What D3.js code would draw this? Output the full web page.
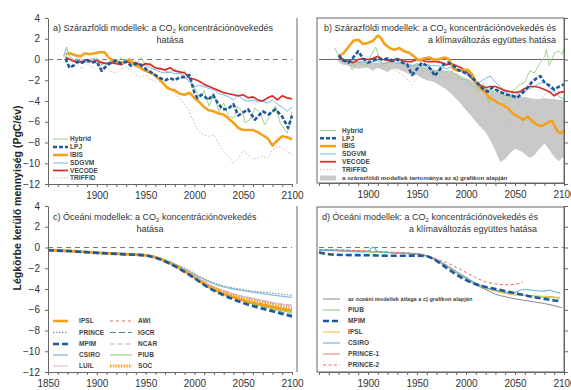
<!DOCTYPE html>
<html>
<head>
<meta charset="utf-8">
<script src="https://cdn.jsdelivr.net/npm/d3@7"></script>
<style>
  body { margin: 0; background: #fff; }
  text { font-family: "Liberation Sans", Arial, sans-serif; fill: #333; }
  .axis path, .axis line { stroke: #666; }
  .axis text { font-size: 10px; fill: #333; }
  .leg { font-size: 6.5px; font-weight: bold; fill: #444; letter-spacing: 0.1px; }
  .ttl { font-size: 9px; fill: #333; }
</style>
</head>
<body>
<svg id="chart" width="571" height="390"></svg>
<script>
// ---- a) land models, CO2 only ----
var hybridA = [[1866,0.4],[1870,0.2],[1875,-0.3],[1880,0.1],[1885,-0.4],[1890,0.0],[1895,-0.3],[1900,0.1],[1905,-0.2],[1910,-0.5],[1915,0.0],[1920,-0.3],[1925,0.2],[1930,-0.4],[1935,0.1],[1940,-0.6],[1945,0.2],[1950,-0.5],[1955,-0.3],[1960,-0.9],[1965,-0.8],[1970,-1.1],[1975,-1.3],[1980,-0.9],[1985,-1.4],[1990,-1.1],[1996,-2.1],[2001,-2.9],[2006,-3.7],[2010,-3.0],[2015,-4.5],[2020,-3.4],[2025,-5.0],[2030,-4.2],[2035,-5.5],[2041,-5.6],[2044,-4.5],[2049,-5.0],[2052,-6.1],[2057,-5.8],[2062,-4.7],[2067,-5.1],[2072,-6.3],[2077,-5.5],[2083,-4.5],[2088,-6.1],[2095,-7.1],[2098,-6.1],[2100,-5.0]];
var lpjA = [[1868,0.1],[1872,-0.8],[1876,-0.6],[1880,-0.2],[1885,-0.3],[1890,-0.1],[1895,-0.3],[1900,-0.2],[1905,-1.1],[1910,-0.6],[1915,-0.3],[1920,-0.1],[1925,-0.4],[1930,-0.2],[1935,-0.6],[1940,-0.4],[1945,-0.5],[1950,-0.9],[1955,-1.2],[1960,-1.5],[1965,-1.8],[1970,-2.0],[1975,-1.8],[1980,-2.0],[1985,-1.7],[1990,-1.7],[1995,-1.5],[2000,-3.2],[2003,-3.7],[2007,-3.4],[2010,-3.5],[2014,-3.9],[2019,-3.4],[2024,-4.2],[2029,-4.8],[2034,-4.8],[2040,-4.3],[2045,-5.4],[2050,-5.1],[2055,-4.8],[2062,-5.8],[2070,-5.0],[2076,-5.3],[2083,-4.8],[2090,-5.5],[2096,-6.6],[2100,-5.4]];
var ibisA = [[1868,0.5],[1873,0.6],[1878,0.4],[1883,0.3],[1888,0.6],[1893,0.5],[1898,0.6],[1903,0.7],[1908,0.7],[1913,0.1],[1918,-0.15],[1923,-0.3],[1928,-0.3],[1933,0.0],[1938,-0.5],[1943,-0.7],[1948,-1.0],[1953,-1.2],[1958,-1.4],[1963,-1.8],[1968,-2.3],[1972,-2.7],[1976,-2.9],[1980,-3.0],[1985,-3.3],[1990,-3.4],[1995,-3.2],[2000,-3.7],[2005,-4.1],[2010,-4.6],[2015,-4.9],[2020,-5.0],[2025,-5.2],[2030,-5.3],[2035,-5.7],[2040,-6.1],[2045,-6.6],[2050,-6.8],[2055,-6.8],[2060,-6.8],[2065,-7.0],[2070,-7.3],[2075,-7.6],[2080,-8.3],[2085,-7.8],[2090,-7.4],[2095,-7.5],[2100,-7.7]];
var sdgvmA = [[1866,0.3],[1869,1.2],[1872,0.3],[1876,0.0],[1880,-0.2],[1885,0.0],[1890,-0.3],[1895,0.1],[1900,0.0],[1905,-0.5],[1910,-0.3],[1915,-0.2],[1920,-0.1],[1925,-0.4],[1930,0.0],[1935,-0.5],[1940,-0.3],[1945,-0.4],[1950,-0.6],[1955,-0.8],[1960,-1.0],[1965,-1.2],[1970,-1.3],[1975,-1.2],[1980,-1.4],[1985,-1.3],[1990,-1.6],[1995,-2.2],[2000,-2.6],[2005,-2.5],[2010,-2.6],[2015,-2.8],[2020,-2.9],[2025,-3.3],[2030,-3.4],[2035,-3.6],[2040,-3.9],[2045,-3.4],[2050,-3.9],[2055,-4.0],[2060,-3.9],[2065,-4.1],[2070,-4.0],[2075,-4.2],[2080,-3.9],[2085,-4.3],[2090,-4.6],[2095,-5.0],[2100,-4.6]];
var vecodeA = [[1868,0.2],[1875,-0.1],[1880,-0.3],[1885,-0.2],[1890,0.0],[1895,-0.2],[1900,-0.1],[1905,-0.3],[1910,-0.4],[1915,-0.3],[1920,-0.4],[1925,-0.5],[1930,-0.2],[1935,-0.3],[1940,-0.3],[1945,-0.6],[1950,-0.4],[1955,-0.5],[1960,-0.8],[1965,-0.9],[1970,-1.0],[1975,-0.8],[1980,-1.1],[1985,-1.2],[1990,-1.3],[1995,-1.8],[2000,-1.9],[2005,-2.1],[2010,-2.4],[2015,-2.6],[2020,-2.8],[2025,-3.0],[2030,-3.2],[2035,-3.3],[2040,-3.4],[2045,-3.5],[2050,-3.4],[2055,-3.7],[2060,-3.6],[2065,-3.9],[2070,-4.0],[2075,-3.7],[2080,-3.5],[2085,-3.9],[2090,-3.5],[2095,-3.7],[2100,-3.8]];
var triffidA = [[1866,0.1],[1870,-0.3],[1875,-0.7],[1880,-0.5],[1885,-0.9],[1890,-0.4],[1895,-0.8],[1900,-0.6],[1905,-0.9],[1910,-0.7],[1915,-1.2],[1920,-1.3],[1925,-0.9],[1930,-0.7],[1935,-1.2],[1940,-1.5],[1945,-1.7],[1950,-1.5],[1955,-1.9],[1960,-2.1],[1965,-2.2],[1970,-2.4],[1975,-2.8],[1980,-3.2],[1985,-3.8],[1990,-4.3],[1995,-5.0],[2000,-6.2],[2005,-6.9],[2010,-7.3],[2015,-7.4],[2020,-7.3],[2025,-8.1],[2030,-8.9],[2035,-9.4],[2040,-10.0],[2045,-9.5],[2050,-8.8],[2055,-9.2],[2060,-9.6],[2065,-9.5],[2070,-9.3],[2075,-9.5],[2080,-8.7],[2085,-8.4],[2090,-8.5],[2095,-8.9],[2100,-9.1]];

// ---- b) land models, CO2 + climate ----
var hybridB = [[1866,1.1],[1870,0.4],[1875,0.0],[1880,-0.3],[1884,-1.0],[1888,-0.2],[1893,-0.4],[1898,-0.6],[1903,0.4],[1908,1.2],[1912,0.0],[1917,-0.6],[1922,-0.2],[1927,0.1],[1932,-0.3],[1937,0.0],[1942,-0.5],[1947,-0.7],[1952,-0.4],[1957,-0.9],[1962,-0.6],[1967,-1.2],[1972,-1.0],[1977,-1.3],[1982,-1.1],[1987,-1.2],[1992,-1.8],[1997,-1.9],[2002,-2.0],[2007,-2.6],[2013,-3.1],[2018,-2.3],[2023,-4.2],[2028,-3.0],[2034,-2.9],[2040,-4.3],[2044,-3.9],[2049,-2.9],[2055,-2.4],[2060,-2.2],[2065,-1.1],[2070,-1.3],[2075,-0.4],[2080,0.2],[2082,1.0],[2085,-0.6],[2090,0.6],[2095,0.8],[2098,0.5],[2100,1.1]];
var lpjB = [[1870,0.4],[1875,-0.1],[1880,-0.3],[1885,0.2],[1890,0.8],[1895,0.1],[1900,-0.3],[1905,-0.1],[1910,0.1],[1915,0.0],[1920,0.1],[1925,-0.1],[1930,0.0],[1935,-0.3],[1940,-0.5],[1945,-1.5],[1950,-0.9],[1955,-0.3],[1960,-0.6],[1965,-1.0],[1968,-1.6],[1973,-1.0],[1977,-0.5],[1982,-0.3],[1987,-0.6],[1992,-1.0],[1997,-1.2],[2002,-1.4],[2007,-1.8],[2012,-2.3],[2017,-2.8],[2022,-3.1],[2027,-2.7],[2032,-3.0],[2037,-3.2],[2042,-3.4],[2047,-3.5],[2052,-3.7],[2057,-3.3],[2062,-2.8],[2067,-2.2],[2072,-1.8],[2076,-1.6],[2080,-2.2],[2085,-2.5],[2090,-2.9],[2095,-2.6],[2100,-2.4]];
var ibisB = [[1870,0.3],[1875,0.6],[1880,1.2],[1885,1.8],[1890,1.9],[1895,1.5],[1900,1.6],[1905,1.8],[1910,2.3],[1913,2.1],[1917,1.5],[1922,1.1],[1927,0.95],[1932,1.1],[1937,0.8],[1942,0.65],[1947,0.3],[1952,-0.1],[1957,0.1],[1962,0.2],[1967,0.0],[1972,0.0],[1978,0.2],[1983,0.0],[1987,-0.9],[1992,-1.1],[1997,-1.0],[2002,-1.0],[2006,-1.4],[2011,-2.4],[2015,-2.8],[2019,-3.1],[2024,-3.7],[2028,-3.9],[2033,-4.2],[2038,-4.4],[2043,-4.7],[2048,-5.2],[2053,-5.5],[2058,-5.8],[2063,-5.5],[2068,-6.0],[2073,-6.3],[2078,-6.4],[2083,-6.1],[2088,-5.9],[2093,-6.9],[2097,-7.1],[2100,-6.8]];
var sdgvmB = [[1870,0.5],[1875,0.0],[1880,-0.2],[1885,-0.1],[1890,-0.3],[1895,-0.2],[1900,-0.4],[1905,-0.2],[1910,-0.1],[1915,-0.4],[1920,-0.3],[1925,-0.2],[1930,-0.4],[1935,-0.2],[1940,-0.5],[1945,-0.6],[1950,-0.4],[1955,-0.6],[1960,-0.5],[1965,-0.6],[1970,-0.6],[1975,-0.7],[1980,-0.9],[1985,-0.7],[1990,-0.9],[1995,-1.1],[2000,-1.4],[2005,-1.8],[2010,-2.3],[2015,-2.1],[2020,-1.8],[2025,-1.6],[2030,-2.2],[2035,-2.6],[2040,-3.1],[2045,-3.4],[2050,-3.5],[2055,-3.2],[2060,-3.0],[2065,-2.8],[2070,-2.6],[2075,-2.3],[2080,-2.1],[2085,-2.7],[2090,-3.1],[2095,-3.6],[2100,-3.8]];
var vecodeB = [[1870,0.2],[1875,0.0],[1880,-0.2],[1885,-0.3],[1890,0.0],[1895,0.1],[1900,0.0],[1905,0.1],[1910,0.3],[1915,0.0],[1920,-0.1],[1925,-0.2],[1930,0.1],[1935,-0.1],[1940,-0.2],[1945,-0.2],[1950,0.0],[1955,-0.1],[1960,-0.2],[1965,-0.2],[1970,-0.2],[1975,-0.3],[1980,-0.5],[1985,-0.4],[1990,-0.6],[1995,-0.8],[2000,-1.1],[2005,-1.7],[2010,-2.2],[2015,-2.5],[2020,-2.7],[2025,-2.6],[2030,-2.6],[2035,-2.8],[2040,-3.0],[2045,-3.1],[2050,-3.2],[2055,-3.1],[2060,-2.8],[2065,-2.6],[2070,-2.6],[2075,-2.7],[2080,-2.9],[2085,-3.1],[2090,-3.5],[2095,-3.2],[2100,-3.1]];
var triffidB = [[1866,0.1],[1870,-0.1],[1875,-0.2],[1880,-0.4],[1885,-0.7],[1890,-0.4],[1895,-0.5],[1900,-0.6],[1905,-1.1],[1910,-0.6],[1915,-0.5],[1920,-0.7],[1925,-0.9],[1930,-1.1],[1935,-1.5],[1940,-1.9],[1945,-2.4],[1950,-1.8],[1955,-1.2],[1960,-1.1],[1965,-1.3],[1970,-1.4],[1975,-1.6],[1980,-1.8],[1985,-1.7],[1990,-2.0],[1995,-2.2],[2000,-2.3],[2005,-2.8],[2010,-3.2],[2015,-3.7],[2020,-3.9],[2025,-4.5],[2030,-4.6],[2035,-4.8],[2040,-5.7],[2045,-7.0],[2050,-7.5],[2055,-6.8],[2060,-5.6],[2065,-5.1],[2070,-4.7],[2075,-3.9],[2080,-3.4],[2085,-3.1],[2090,-3.0],[2095,-3.1],[2100,-3.2]];

// range of the land models taken from a)
var bandYears = [1870,1875,1880,1885,1890,1895,1900,1905,1910,1915,1920,1925,1930,1935,1940,1945,1950,1955,1960,1965,1970,1975,1980,1985,1990,1995,2000,2005,2010,2015,2020,2025,2030,2035,2040,2045,2050,2055,2060,2065,2070,2075,2080,2085,2090,2095,2100];
var bandHigh = [0.0,-0.1,-0.1,-0.2,-0.1,-0.2,-0.2,-0.3,-0.3,-0.3,-0.3,-0.3,-0.2,-0.3,-0.4,-0.5,-0.5,-0.6,-0.8,-0.9,-1.0,-1.0,-1.1,-1.2,-1.3,-1.6,-1.8,-2.0,-2.3,-2.5,-2.7,-2.9,-3.1,-3.2,-3.3,-3.4,-3.5,-3.6,-3.6,-3.7,-3.8,-3.8,-3.7,-3.8,-3.8,-3.9,-3.9];
var bandLow = [-0.3,-0.5,-0.6,-0.8,-0.9,-0.8,-0.8,-1.0,-0.8,-1.0,-1.2,-0.9,-0.9,-1.1,-1.3,-1.6,-1.5,-1.8,-2.0,-2.1,-2.3,-2.6,-2.9,-3.3,-3.8,-4.3,-4.9,-5.4,-6.0,-6.5,-7.0,-7.8,-8.8,-9.9,-9.6,-9.0,-8.6,-8.8,-9.1,-9.5,-9.2,-8.6,-8.1,-8.7,-9.4,-9.8,-9.3];

// ---- c) ocean models, CO2 only ----
var oceanYears = [1850,1875,1900,1925,1950,1960,1970,1980,1990,2000,2010,2020,2030,2040,2050,2060,2070,2080,2090,2100];
var ipslC  = [-0.25,-0.35,-0.5,-0.62,-0.75,-0.95,-1.3,-1.75,-2.3,-2.9,-3.55,-4.05,-4.45,-4.8,-5.1,-5.35,-5.55,-5.75,-5.95,-6.1];
var princeC = [-0.25,-0.35,-0.48,-0.6,-0.72,-0.9,-1.2,-1.6,-2.0,-2.5,-3.0,-3.4,-3.7,-3.9,-4.05,-4.2,-4.3,-4.4,-4.5,-4.6];
var mpimC  = [-0.27,-0.37,-0.52,-0.64,-0.78,-0.98,-1.35,-1.8,-2.35,-2.95,-3.6,-4.15,-4.6,-5.0,-5.35,-5.65,-5.9,-6.15,-6.4,-6.65];
var csiroC = [-0.25,-0.35,-0.48,-0.6,-0.72,-0.9,-1.2,-1.6,-2.1,-2.6,-3.1,-3.5,-3.8,-4.0,-4.15,-4.3,-4.45,-4.6,-4.7,-4.8];
var luilC  = [-0.25,-0.35,-0.49,-0.61,-0.74,-0.93,-1.27,-1.7,-2.25,-2.75,-3.3,-3.8,-4.15,-4.45,-4.7,-4.9,-5.1,-5.3,-5.45,-5.55];
var awiC   = [-0.26,-0.36,-0.5,-0.62,-0.76,-0.96,-1.32,-1.78,-2.32,-2.9,-3.5,-4.0,-4.4,-4.75,-5.0,-5.25,-5.45,-5.65,-5.85,-6.0];
var igcrC  = [-0.27,-0.37,-0.51,-0.63,-0.77,-0.97,-1.34,-1.8,-2.35,-2.95,-3.6,-4.1,-4.55,-4.9,-5.2,-5.5,-5.75,-6.0,-6.25,-6.5];
var ncarC  = [-0.25,-0.35,-0.49,-0.61,-0.74,-0.94,-1.28,-1.72,-2.27,-2.8,-3.35,-3.85,-4.2,-4.5,-4.75,-4.95,-5.15,-5.35,-5.5,-5.65];
var piubC  = [-0.26,-0.36,-0.5,-0.63,-0.77,-0.97,-1.33,-1.8,-2.35,-2.95,-3.55,-4.1,-4.5,-4.85,-5.1,-5.4,-5.65,-5.9,-6.1,-6.3];
var socC   = [-0.25,-0.35,-0.5,-0.62,-0.75,-0.95,-1.3,-1.74,-2.27,-2.8,-3.4,-3.9,-4.3,-4.6,-4.9,-5.1,-5.3,-5.5,-5.7,-5.85];

// ---- d) ocean models, CO2 + climate ----
var avgD = [[1850,-0.24],[1875,-0.32],[1900,-0.42],[1925,-0.52],[1950,-0.66],[1960,-0.85],[1970,-1.3],[1980,-1.8],[1990,-2.45],[2000,-3.0],[2010,-3.6],[2020,-4.05],[2030,-4.5],[2040,-4.75],[2050,-4.95],[2060,-5.1],[2070,-5.25],[2080,-5.4],[2090,-5.6],[2098,-5.8]];
var piubD = [[1850,-0.2],[1875,-0.3],[1900,-0.4],[1925,-0.5],[1950,-0.6],[1960,-0.8],[1970,-1.2],[1980,-1.7],[1990,-2.35],[2000,-2.9],[2010,-3.45],[2020,-3.85],[2030,-4.15],[2040,-4.35],[2050,-4.5],[2060,-4.6],[2070,-4.7],[2080,-4.8],[2090,-4.85],[2096,-4.9]];
var mpimD = [[1850,-0.45],[1860,-0.65],[1875,-0.72],[1900,-0.75],[1925,-0.8],[1950,-0.78],[1960,-0.85],[1970,-1.3],[1980,-1.95],[1990,-2.6],[2000,-3.15],[2010,-3.55],[2020,-3.8],[2030,-4.0],[2040,-4.2],[2050,-4.4],[2060,-4.6],[2070,-4.8],[2080,-4.95],[2090,-5.1],[2097,-5.2]];
var ipslD = [[1850,-0.22],[1875,-0.3],[1900,-0.4],[1925,-0.5],[1950,-0.62],[1960,-0.82],[1970,-1.25],[1980,-1.75],[1990,-2.4],[2000,-2.95],[2010,-3.5],[2020,-3.9],[2030,-4.2],[2040,-4.4],[2050,-4.55],[2060,-4.6],[2070,-4.65],[2080,-4.7],[2090,-4.75],[2096,-4.8]];
var csiroD = [[1850,-0.25],[1875,-0.35],[1895,-0.42],[1901,-0.3],[1905,0.05],[1909,-0.3],[1913,-0.45],[1925,-0.5],[1950,-0.6],[1960,-0.8],[1970,-1.2],[1980,-1.7],[1990,-2.3],[2000,-2.9],[2010,-3.45],[2020,-3.85],[2030,-4.1],[2040,-4.3],[2050,-4.35],[2055,-4.1],[2060,-4.05],[2070,-4.15],[2080,-4.2],[2085,-4.1],[2090,-4.25],[2096,-4.4]];
var prince1D = [[1850,-0.2],[1875,-0.28],[1900,-0.36],[1925,-0.5],[1950,-0.63],[1960,-0.82],[1970,-1.25],[1980,-1.8],[1990,-2.4],[2000,-2.95],[2010,-3.5],[2020,-3.9],[2030,-4.2],[2040,-4.4],[2050,-4.55],[2060,-4.6]];
var prince2D = [[1850,-0.2],[1875,-0.25],[1900,-0.35],[1925,-0.45],[1950,-0.6],[1960,-0.8],[1970,-1.1],[1980,-1.45],[1990,-1.9],[2000,-2.4],[2010,-2.9],[2020,-3.3],[2030,-3.5],[2040,-3.6],[2050,-3.55],[2058,-3.3]];

var yTicks = [4, 2, 0, -2, -4, -6, -8, -10, -12];
var xTicks = [1850,1860,1870,1880,1890,1900,1910,1920,1930,1940,1950,1960,1970,1980,1990,2000,2010,2020,2030,2040,2050,2060,2070,2080,2090,2100];
var xLabelsTop = [1900, 1950, 2000, 2050, 2100];
var xLabelsBottomLeft = [1850, 1900, 1950, 2000, 2050, 2100];

function oceanPairs (vals) {
  return oceanYears.map(function (yr, i) { return [yr, vals[i]]; });
}

var svg = d3.select('#chart');

var xLeft = d3.scaleLinear().domain([1850, 2100]).range([48, 292]);
var xRight = d3.scaleLinear().domain([1850, 2100]).range([319, 564]);
var yTop = d3.scaleLinear().domain([-12, 4]).range([184, 18]);
var yBot = d3.scaleLinear().domain([-12, 4]).range([372, 206]);

function lineGen (x, y, curve) {
  return d3.line()
    .x(function (d) { return x(d[0]); })
    .y(function (d) { return y(d[1]); })
    .curve(curve || d3.curveLinear);
}

function drawSeries (g, x, y, list, curve) {
  var line = lineGen(x, y, curve);
  list.forEach(function (s) {
    g.append('path')
      .attr('d', line(s.data))
      .attr('fill', 'none')
      .attr('stroke', s.color)
      .attr('stroke-width', s.width)
      .attr('stroke-dasharray', s.dash || null)
      .attr('stroke-linejoin', 'round');
  });
}

function xAxis (g, x, y0, labels) {
  g.append('g')
    .attr('class', 'axis')
    .attr('transform', 'translate(0,' + y0 + ')')
    .call(d3.axisBottom(x)
      .tickValues(xTicks)
      .tickSize(3)
      .tickSizeOuter(0)
      .tickPadding(5)
      .tickFormat(function (d) { return labels.indexOf(d) >= 0 ? d : ''; }));
}

function zeroLine (g, x, y, dashed) {
  g.append('line')
    .attr('x1', x.range()[0]).attr('x2', x.range()[1])
    .attr('y1', y(0)).attr('y2', y(0))
    .attr('stroke', dashed ? '#777' : '#666')
    .attr('stroke-width', 1)
    .attr('stroke-dasharray', dashed ? '5,4' : null);
}

function title (g, x0, y0, pre, post, line2, anchorX, anchor) {
  var t = g.append('text').attr('class', 'ttl').attr('x', x0).attr('y', y0);
  t.append('tspan').text(pre + 'CO');
  t.append('tspan').attr('font-size', '6px').attr('dy', 2).text('2');
  t.append('tspan').attr('dy', -2).text(post);
  g.append('text').attr('class', 'ttl')
    .attr('x', anchorX).attr('y', y0 + 12)
    .attr('text-anchor', anchor)
    .text(line2);
}

function legend (g, items, x0, x1, tx, rows) {
  items.forEach(function (s, i) {
    var yy = rows[i];
    if (s.box) {
      g.append('rect').attr('x', x0).attr('y', yy - 2.5).attr('width', x1 - x0).attr('height', 5)
        .attr('fill', s.color);
    } else {
      g.append('line').attr('x1', x0).attr('x2', x1).attr('y1', yy).attr('y2', yy)
        .attr('stroke', s.color).attr('stroke-width', s.width)
        .attr('stroke-dasharray', s.dash || null);
    }
    var t = g.append('text').attr('class', 'leg').attr('x', tx).attr('y', yy + 2.3).text(s.name);
    if (s.small) t.style('font-size', s.small).style('letter-spacing', '0px');
  });
}

var cHybrid = '#9fd48e', cLpj = '#1c5a9c', cIbis = '#f4a21c', cSdgvm = '#72bde4',
    cVecode = '#dd2a2a', cTriffid = '#d8b79f';

function landStyles (h, l, i, s, v, t) {
  return [
    { name: 'Hybrid', data: h, color: cHybrid, width: 1 },
    { name: 'LPJ', data: l, color: cLpj, width: 2.6, dash: '4,2' },
    { name: 'IBIS', data: i, color: cIbis, width: 2.6 },
    { name: 'SDGVM', data: s, color: cSdgvm, width: 1 },
    { name: 'VECODE', data: v, color: cVecode, width: 1.7 },
    { name: 'TRIFFID', data: t, color: cTriffid, width: 1, dash: '1.5,2' }
  ];
}

// ---------- panel a ----------
var ga = svg.append('g');
zeroLine(ga, xLeft, yTop, true);
var seriesA = landStyles(hybridA, lpjA, ibisA, sdgvmA, vecodeA, triffidA);
drawSeries(ga, xLeft, yTop, [seriesA[5], seriesA[0], seriesA[3], seriesA[4], seriesA[2], seriesA[1]]);
ga.append('g').attr('class', 'axis').attr('transform', 'translate(48,0)')
  .call(d3.axisLeft(yTop).tickValues(yTicks).tickSize(3).tickSizeOuter(0).tickPadding(5));
xAxis(ga, xLeft, 184, xLabelsTop);
ga.append('line').attr('x1', 297).attr('x2', 297).attr('y1', 18).attr('y2', 184).attr('stroke', '#666');
title(ga, 53, 31, 'a) Szárazföldi modellek: a ', ' koncentrációnövekedés', 'hatása', 170, 'middle');
legend(ga, seriesA, 53, 68, 70, [139, 147, 155, 163, 170.5, 178]);

// ---------- panel b ----------
var gb = svg.append('g');
var band = d3.area()
  .x(function (d, i) { return xRight(bandYears[i]); })
  .y0(function (d, i) { return yTop(bandLow[i]); })
  .y1(function (d, i) { return yTop(bandHigh[i]); });
gb.append('path').attr('d', band(bandYears)).attr('fill', '#c9c9c9');
zeroLine(gb, xRight, yTop, false);
var seriesB = landStyles(hybridB, lpjB, ibisB, sdgvmB, vecodeB, triffidB);
drawSeries(gb, xRight, yTop, [seriesB[5], seriesB[0], seriesB[3], seriesB[4], seriesB[2], seriesB[1]]);
gb.append('rect').attr('x', 317).attr('y', 18).attr('width', 247).attr('height', 165)
  .attr('fill', 'none').attr('stroke', '#666');
gb.append('g').attr('class', 'axis').attr('transform', 'translate(564,0)')
  .call(d3.axisRight(yTop).tickValues(yTicks).tickSize(4).tickSizeOuter(0).tickFormat(''));
xAxis(gb, xRight, 183, xLabelsTop);
title(gb, 324, 31, 'b) Szárazföldi modellek: a ', ' koncentrációnövekedés és', 'a klímaváltozás együttes hatása', 556, 'end');
legend(gb, seriesB.concat([{ name: 'a szárazföldi modellek tartománya az a) grafikon alapján', color: '#c9c9c9', box: true, small: '6.2px' }]),
  320, 336, 342, [130.5, 138.3, 146.1, 153.9, 161.7, 169.5, 178]);

// ---------- panel c ----------
var gc = svg.append('g');
zeroLine(gc, xLeft, yBot, true);
var seriesC = [
  { name: 'IPSL', data: oceanPairs(ipslC), color: '#f4a21c', width: 2.6 },
  { name: 'PRINCE', data: oceanPairs(princeC), color: '#9a9a9a', width: 1.3, dash: '1.5,1.5' },
  { name: 'MPIM', data: oceanPairs(mpimC), color: '#1c5a9c', width: 2.6, dash: '6,3' },
  { name: 'CSIRO', data: oceanPairs(csiroC), color: '#86bde6', width: 1.3 },
  { name: 'LUIL', data: oceanPairs(luilC), color: '#dcb6dc', width: 1.1 },
  { name: 'AWI', data: oceanPairs(awiC), color: '#e36a6a', width: 1, dash: '3,3' },
  { name: 'IGCR', data: oceanPairs(igcrC), color: '#3f9a5e', width: 1, dash: '6,3' },
  { name: 'NCAR', data: oceanPairs(ncarC), color: '#c9a5d6', width: 1, dash: '5,3' },
  { name: 'PIUB', data: oceanPairs(piubC), color: '#8fd07c', width: 1.1 },
  { name: 'SOC', data: oceanPairs(socC), color: '#f4a21c', width: 3, dash: '1.5,1.2' }
];
drawSeries(gc, xLeft, yBot, [seriesC[3], seriesC[1], seriesC[4], seriesC[7], seriesC[5], seriesC[8], seriesC[6], seriesC[0], seriesC[9], seriesC[2]], d3.curveMonotoneX);
gc.append('g').attr('class', 'axis').attr('transform', 'translate(48,0)')
  .call(d3.axisLeft(yBot).tickValues(yTicks).tickSize(3).tickSizeOuter(0).tickPadding(5));
xAxis(gc, xLeft, 372, xLabelsBottomLeft);
gc.append('line').attr('x1', 297).attr('x2', 297).attr('y1', 206).attr('y2', 372).attr('stroke', '#666');
title(gc, 53, 220, 'c) Óceáni modellek: a ', ' koncentrációnövekedés', 'hatása', 150, 'middle');
legend(gc, seriesC.slice(0, 5), 53, 68, 79, [321, 332.5, 344, 355, 366]);
legend(gc, seriesC.slice(5), 110, 132, 138, [321, 332.5, 344, 355, 366]);

// ---------- panel d ----------
var gd = svg.append('g');
zeroLine(gd, xRight, yBot, true);
var seriesD = [
  { name: 'az óceáni modellek átlaga a c) grafikon alapján', data: avgD, color: '#8a8a8a', width: 1, small: '5.6px' },
  { name: 'PIUB', data: piubD, color: '#8fd07c', width: 1.1 },
  { name: 'MPIM', data: mpimD, color: '#1c5a9c', width: 2.6, dash: '6,3' },
  { name: 'IPSL', data: ipslD, color: '#f6be4a', width: 1.1 },
  { name: 'CSIRO', data: csiroD, color: '#5fb3e2', width: 1.1 },
  { name: 'PRINCE-1', data: prince1D, color: '#e58a78', width: 1.1 },
  { name: 'PRINCE-2', data: prince2D, color: '#f06464', width: 1, dash: '3,2.5' }
];
drawSeries(gd, xRight, yBot, [seriesD[0], seriesD[5], seriesD[1], seriesD[3], seriesD[4], seriesD[6], seriesD[2]], d3.curveMonotoneX);
gd.append('rect').attr('x', 317).attr('y', 207).attr('width', 247).attr('height', 165)
  .attr('fill', 'none').attr('stroke', '#666');
gd.append('g').attr('class', 'axis').attr('transform', 'translate(564,0)')
  .call(d3.axisRight(yBot).tickValues(yTicks).tickSize(4).tickSizeOuter(0).tickFormat(''));
xAxis(gd, xRight, 372, xLabelsTop);
title(gd, 322, 220, 'd) Óceáni modellek: a ', ' koncentrációnövekedés és', 'a klímaváltozás együttes hatása', 537, 'end');
legend(gd, seriesD, 323, 340, 348, [299, 310, 321, 332, 343, 354, 365]);

// shared y title
svg.append('text')
  .attr('transform', 'translate(21,198) rotate(-90)')
  .attr('text-anchor', 'middle')
  .attr('font-size', '10.5px')
  .attr('font-weight', 'bold')
  .style('fill', '#222')
  .text('Légkörbe kerülő mennyiség (PgC/év)');
</script>
</body>
</html>
